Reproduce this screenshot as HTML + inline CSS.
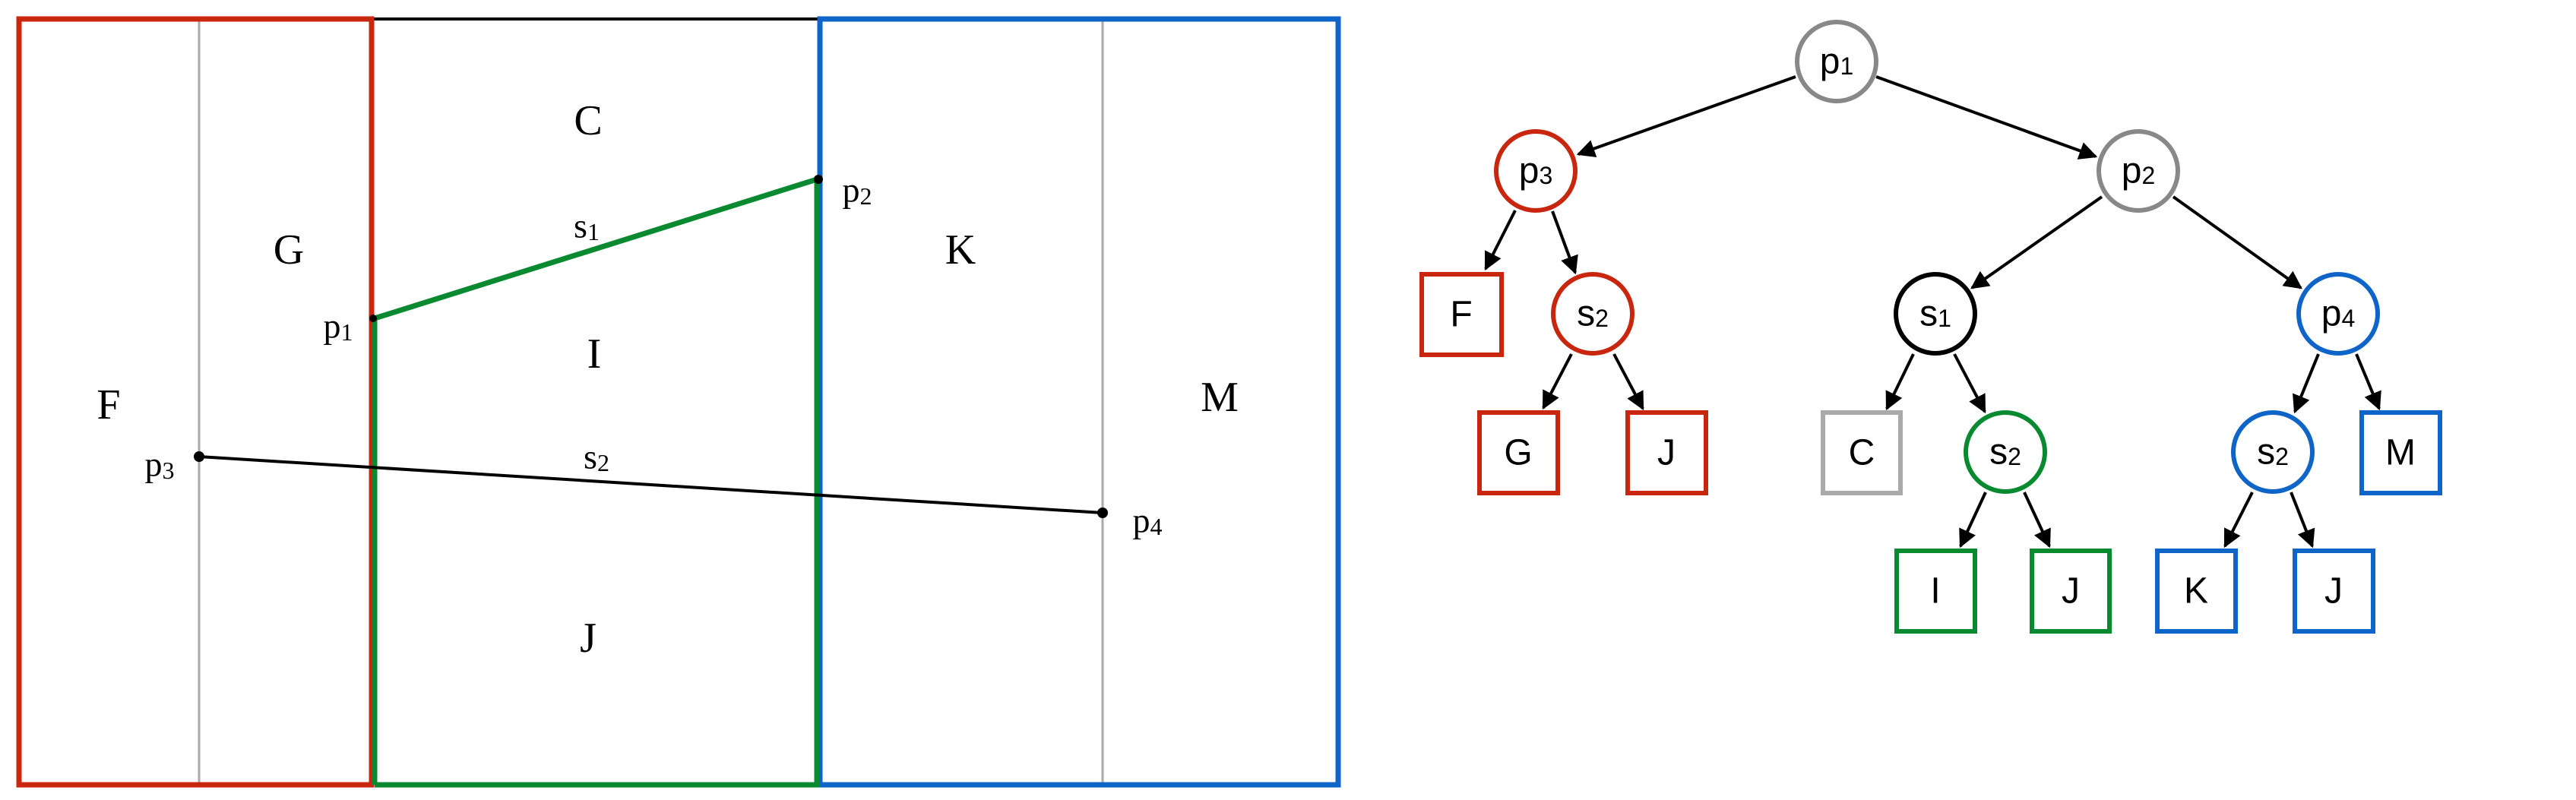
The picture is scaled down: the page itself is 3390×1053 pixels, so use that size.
<!DOCTYPE html>
<html><head><meta charset="utf-8"><style>html,body{margin:0;padding:0;background:#fff}svg{display:block}</style></head>
<body>
<svg width="3390" height="1053" viewBox="0 0 3390 1053" xmlns="http://www.w3.org/2000/svg">
<defs><marker id="a" viewBox="0 0 10 10" refX="9" refY="5" markerWidth="6" markerHeight="6" markerUnits="strokeWidth" orient="auto"><path d="M0,0 L10,5 L0,10 z" fill="#000"/></marker></defs>
<g fill="none">
<line x1="262" y1="25" x2="262" y2="1033" stroke="#aaa" stroke-width="3"/>
<line x1="1451" y1="25" x2="1451" y2="1033" stroke="#aaa" stroke-width="3"/>
<line x1="489" y1="25" x2="1079" y2="25" stroke="#000" stroke-width="4"/>
<rect x="25" y="25" width="464" height="1008" stroke="#c8260f" stroke-width="7"/>
<rect x="1079" y="25" width="682" height="1008" stroke="#0f64c8" stroke-width="7"/>
<polyline points="493,1033 493,419 1075,236 1075,1033 493,1033" stroke="#0a8a30" stroke-width="7"/>
<line x1="262" y1="601" x2="1451" y2="675" stroke="#000" stroke-width="4"/>
</g>
<circle cx="262" cy="601" r="7"/><circle cx="1451" cy="675" r="7"/><circle cx="1077" cy="236" r="6"/><circle cx="491" cy="419" r="5"/>
<g font-family="Liberation Serif, serif" font-size="56" text-anchor="middle" dominant-baseline="central">
<text x="774" y="159">C</text><text x="380" y="329">G</text><text x="1264" y="329">K</text>
<text x="782" y="466">I</text><text x="143" y="533">F</text><text x="1605" y="523">M</text><text x="774" y="840">J</text>
</g>
<g font-family="Liberation Serif, serif" font-size="46" text-anchor="middle" dominant-baseline="central">
<text x="772" y="297">s<tspan font-size="32" dy="8">1</tspan></text>
<text x="1128" y="250">p<tspan font-size="32" dy="8">2</tspan></text>
<text x="445" y="429">p<tspan font-size="32" dy="8">1</tspan></text>
<text x="210" y="611">p<tspan font-size="32" dy="8">3</tspan></text>
<text x="785" y="601">s<tspan font-size="32" dy="8">2</tspan></text>
<text x="1510" y="685">p<tspan font-size="32" dy="8">4</tspan></text>
</g>
<g stroke="#000" stroke-width="4" marker-end="url(#a)">
<line x1="2363" y1="101" x2="2077" y2="203"/>
<line x1="2469" y1="101" x2="2758" y2="206"/>
<line x1="1994" y1="277" x2="1955" y2="354"/>
<line x1="2043" y1="278" x2="2073" y2="359"/>
<line x1="2068" y1="466" x2="2031" y2="537"/>
<line x1="2124" y1="466" x2="2162" y2="538"/>
<line x1="2766" y1="259" x2="2595" y2="379"/>
<line x1="2860" y1="259" x2="3028" y2="379"/>
<line x1="2518" y1="466" x2="2483" y2="538"/>
<line x1="2572" y1="466" x2="2612" y2="542"/>
<line x1="3051" y1="466" x2="3020" y2="542"/>
<line x1="3101" y1="466" x2="3131" y2="538"/>
<line x1="2613" y1="648" x2="2580" y2="719"/>
<line x1="2664" y1="648" x2="2697" y2="719"/>
<line x1="2964" y1="648" x2="2928" y2="719"/>
<line x1="3015" y1="648" x2="3043" y2="719"/>
</g>
<g fill="#fff" stroke-width="6">
<circle cx="2417" cy="81" r="52" stroke="#888"/>
<circle cx="2021" cy="225" r="52" stroke="#c8260f"/>
<circle cx="2814" cy="225" r="52" stroke="#888"/>
<circle cx="2096" cy="413" r="52" stroke="#c8260f"/>
<circle cx="2547" cy="413" r="52" stroke="#000"/>
<circle cx="3077" cy="413" r="52" stroke="#0f64c8"/>
<circle cx="2639" cy="595" r="52" stroke="#0a8a30"/>
<circle cx="2991" cy="595" r="52" stroke="#0f64c8"/>
</g>
<g fill="#fff" stroke-width="6">
<rect x="1871" y="361" width="105" height="106" stroke="#c8260f"/>
<rect x="1947" y="543" width="103" height="106" stroke="#c8260f"/>
<rect x="2142" y="543" width="103" height="106" stroke="#c8260f"/>
<rect x="2399" y="543" width="102" height="106" stroke="#aaa"/>
<rect x="3108" y="543" width="103" height="106" stroke="#0f64c8"/>
<rect x="2496" y="725" width="103" height="106" stroke="#0a8a30"/>
<rect x="2674" y="725" width="102" height="106" stroke="#0a8a30"/>
<rect x="2839" y="725" width="103" height="106" stroke="#0f64c8"/>
<rect x="3020" y="725" width="103" height="106" stroke="#0f64c8"/>
</g>
<g font-family="Liberation Sans, sans-serif" font-size="48" text-anchor="middle" dominant-baseline="central">
<text x="2417" y="81">p<tspan font-size="32" dy="6">1</tspan></text>
<text x="2021" y="225">p<tspan font-size="32" dy="6">3</tspan></text>
<text x="2814" y="225">p<tspan font-size="32" dy="6">2</tspan></text>
<text x="2096" y="413">s<tspan font-size="32" dy="6">2</tspan></text>
<text x="2547" y="413">s<tspan font-size="32" dy="6">1</tspan></text>
<text x="3077" y="413">p<tspan font-size="32" dy="6">4</tspan></text>
<text x="2639" y="595">s<tspan font-size="32" dy="6">2</tspan></text>
<text x="2991" y="595">s<tspan font-size="32" dy="6">2</tspan></text>
<text x="1923" y="414">F</text><text x="1998" y="596">G</text><text x="2193" y="596">J</text>
<text x="2450" y="596">C</text><text x="3159" y="596">M</text>
<text x="2547" y="778">I</text><text x="2725" y="778">J</text><text x="2890" y="778">K</text><text x="3071" y="778">J</text>
</g>
</svg>
</body></html>
